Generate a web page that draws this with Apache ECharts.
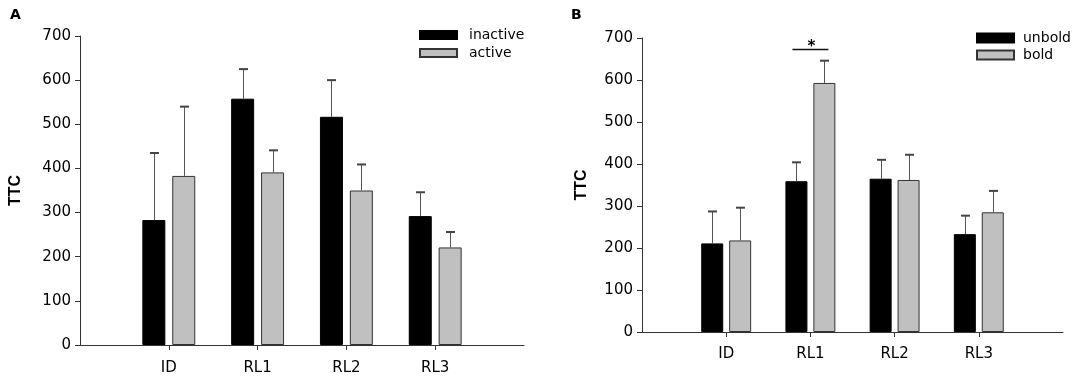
<!DOCTYPE html>
<html>
<head>
<meta charset="utf-8">
<script src="https://cdn.jsdelivr.net/npm/echarts@6/dist/echarts.min.js"></script>
<style>
html,body{margin:0;padding:0;background:#fff;}
#c{width:1084px;height:379px;}
</style>
</head>
<body>
<div id="c"></div>
<script>
// ---- data ----
const categories = ['ID', 'RL1', 'RL2', 'RL3'];
const yTicks = [0, 100, 200, 300, 400, 500, 600, 700];

// Panel A
const inactiveMean = [283, 558, 517, 292];
const inactiveErrTop = [435, 625, 600, 346];
const activeMean = [383, 391, 350, 221];
const activeErrTop = [540, 441, 409, 256];

// Panel B
const unboldMean = [211, 359, 365, 233];
const unboldErrTop = [287, 404, 410, 277];
const boldMean = [218, 593, 362, 285];
const boldErrTop = [296, 646, 422, 336];

// significance marker (panel B)
const sigCategory = ['RL1'];
const sigLevel = [675];

// ---- build ----
const axisCats = [''].concat(categories, ['']);
const pad = arr => ['-'].concat(arr, ['-']);
const idx = c => axisCats.indexOf(c);

const FONT = 'DejaVu Sans';
const TXT = '#000';
const AX = '#333';

function errData(means, tops) {
  return categories.map((c, i) => [idx(c), tops[i], means[i]]);
}
function errRender(offset) {
  return function (params, api) {
    const ci = api.value(0);
    const top = api.coord([ci, api.value(1)]);
    const bot = api.coord([ci, api.value(2)]);
    const x = Math.round(top[0] + offset) + 0.5;
    return {
      type: 'group',
      children: [
        { type: 'line', shape: { x1: x, y1: bot[1], x2: x, y2: top[1] },
          style: { stroke: '#555', lineWidth: 1 } },
        { type: 'line', shape: { x1: x - 4.5, y1: top[1], x2: x + 4.5, y2: top[1] },
          style: { stroke: '#444', lineWidth: 2 } }
      ]
    };
  };
}

function xAxis(gi, margin) {
  return {
    type: 'category', gridIndex: gi, data: axisCats, boundaryGap: false,
    axisLine: { show: true, lineStyle: { color: AX, width: 1 } },
    axisTick: { show: true, length: 5, lineStyle: { color: AX },
      interval: function (i) { return i > 0 && i < axisCats.length - 1; } },
    axisLabel: { show: true, interval: 0, margin: margin, fontFamily: FONT, fontSize: 15, color: TXT },
    splitLine: { show: false }
  };
}
function yAxis(gi, gap) {
  return {
    type: 'value', gridIndex: gi, min: yTicks[0], max: yTicks[yTicks.length - 1], interval: 100,
    name: 'TTC', nameLocation: 'middle', nameGap: gap,
    nameTextStyle: { fontFamily: 'Liberation Sans', fontWeight: 'bold', fontSize: 16, color: TXT },
    axisLine: { show: true, lineStyle: { color: AX, width: 1 } },
    axisTick: { show: true, length: 5, inside: false, lineStyle: { color: AX } },
    axisLabel: { margin: 9, fontFamily: FONT, fontSize: 15, color: TXT },
    splitLine: { show: false }
  };
}

const blackStyle = { color: '#000', borderColor: '#000', borderWidth: 1 };
const grayStyle = { color: '#c0c0c0', borderColor: '#333', borderWidth: 1 };

const option = {
  animation: false,
  backgroundColor: '#fff',
  title: [
    { text: 'A', left: 10, top: 8, padding: 0, textStyle: { fontFamily: FONT, fontWeight: 'bold', fontSize: 14, color: TXT } },
    { text: 'B', left: 571, top: 8, padding: 0, textStyle: { fontFamily: FONT, fontWeight: 'bold', fontSize: 14, color: TXT } }
  ],
  grid: [
    { left: 80, right: 560, top: 36, bottom: 34 },
    { left: 642, right: 21, top: 38, bottom: 47 }
  ],
  xAxis: [xAxis(0, 16), xAxis(1, 15)],
  yAxis: [yAxis(0, 56), yAxis(1, 52)],
  legend: [
    { orient: 'vertical', left: 419, top: 28, padding: 0, itemWidth: 37, itemHeight: 8, itemGap: 4,
      data: ['inactive', 'active'], icon: 'rect',
      textStyle: { fontFamily: FONT, fontSize: 14, lineHeight: 14, color: TXT, padding: [0, 0, 0, 7] } },
    { orient: 'vertical', left: 976, top: 31, padding: 0, itemWidth: 37, itemHeight: 9, itemGap: 3,
      data: ['unbold', 'bold'], icon: 'rect',
      textStyle: { fontFamily: FONT, fontSize: 14, lineHeight: 14, color: TXT, padding: [0, 0, 0, 4] } }
  ],
  series: [
    { name: 'inactive', type: 'bar', xAxisIndex: 0, yAxisIndex: 0, data: pad(inactiveMean),
      barWidth: 23, barGap: '30%', itemStyle: blackStyle },
    { name: 'active', type: 'bar', xAxisIndex: 0, yAxisIndex: 0, data: pad(activeMean),
      barWidth: 23, barGap: '30%', itemStyle: grayStyle },
    { type: 'custom', xAxisIndex: 0, yAxisIndex: 0, renderItem: errRender(-15),
      data: errData(inactiveMean, inactiveErrTop), z: 5, silent: true },
    { type: 'custom', xAxisIndex: 0, yAxisIndex: 0, renderItem: errRender(15),
      data: errData(activeMean, activeErrTop), z: 5, silent: true },

    { name: 'unbold', type: 'bar', xAxisIndex: 1, yAxisIndex: 1, data: pad(unboldMean),
      barWidth: 22, barGap: '27%', itemStyle: blackStyle },
    { name: 'bold', type: 'bar', xAxisIndex: 1, yAxisIndex: 1, data: pad(boldMean),
      barWidth: 22, barGap: '27%', itemStyle: grayStyle },
    { type: 'custom', xAxisIndex: 1, yAxisIndex: 1, renderItem: errRender(-14),
      data: errData(unboldMean, unboldErrTop), z: 5, silent: true },
    { type: 'custom', xAxisIndex: 1, yAxisIndex: 1, renderItem: errRender(14),
      data: errData(boldMean, boldErrTop), z: 5, silent: true },

    { type: 'custom', xAxisIndex: 1, yAxisIndex: 1, z: 6, silent: true,
      data: sigCategory.map((c, i) => [idx(c), sigLevel[i]]),
      renderItem: function (params, api) {
        const p = api.coord([api.value(0), api.value(1)]);
        const y = Math.round(p[1]) + 0.5;
        return {
          type: 'group',
          children: [
            { type: 'line', shape: { x1: p[0] - 18, y1: y, x2: p[0] + 18, y2: y },
              style: { stroke: '#111', lineWidth: 1.5 } },
            { type: 'text', style: { text: '*', x: p[0] + 1, y: y - 2, align: 'center', verticalAlign: 'middle',
              fontFamily: FONT, fontWeight: 'bold', fontSize: 15, fill: TXT } }
          ]
        };
      } }
  ]
};

const chart = echarts.init(document.getElementById('c'), null, { renderer: 'canvas' });
chart.setOption(option);
</script>
</body>
</html>
